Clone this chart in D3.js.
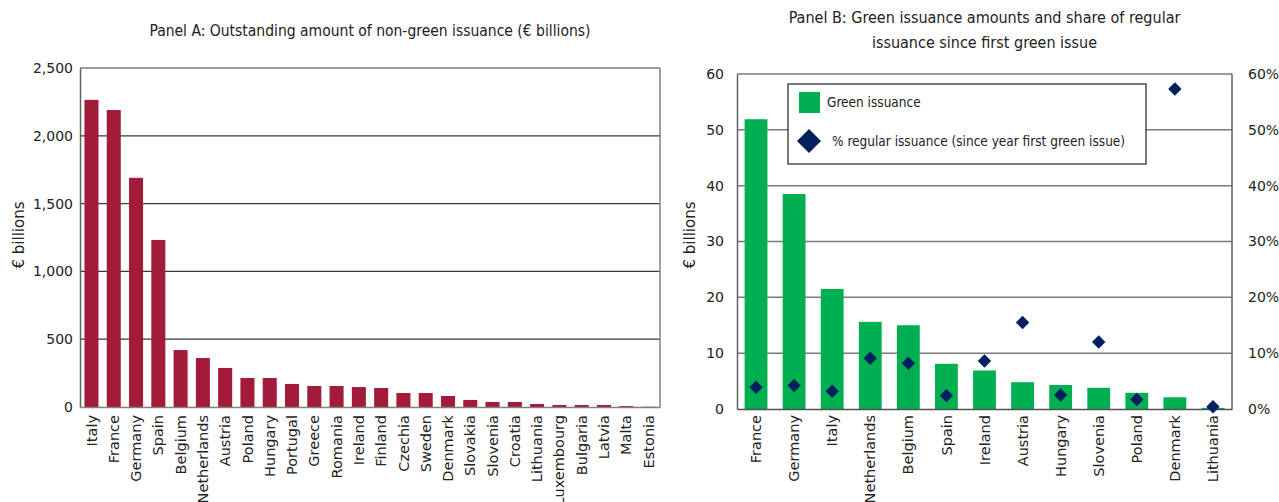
<!DOCTYPE html>
<html>
<head>
<meta charset="utf-8">
<script src="https://cdn.jsdelivr.net/npm/d3@7"></script>
<style>
  body { margin: 0; background: #fff; }
  .tick text { font-family: "DejaVu Sans", sans-serif; fill: #222; }
  .title, .legend text { font-family: "Liberation Sans Narrow", "DejaVu Sans Condensed", sans-serif; fill: #222; }
</style>
</head>
<body>
<div id="vis"></div>
<script>
// Panel A data
var countriesA = ["Italy", "France", "Germany", "Spain", "Belgium", "Netherlands", "Austria", "Poland",
  "Hungary", "Portugal", "Greece", "Romania", "Ireland", "Finland", "Czechia", "Sweden", "Denmark",
  "Slovakia", "Slovenia", "Croatia", "Lithuania", "Luxembourg", "Bulgaria", "Latvia", "Malta", "Estonia"];
var outstandingA = [2265, 2190, 1690, 1232, 420, 361, 288, 214, 214, 170, 155, 155, 147, 140,
  103, 103, 81, 52, 37, 37, 22, 15, 15, 15, 7, 2];
var ticksA = [0, 500, 1000, 1500, 2000, 2500];

// Panel B data
var countriesB = ["France", "Germany", "Italy", "Netherlands", "Belgium", "Spain", "Ireland", "Austria",
  "Hungary", "Slovenia", "Poland", "Denmark", "Lithuania"];
var greenB = [51.9, 38.5, 21.5, 15.6, 15.0, 8.1, 6.9, 4.8, 4.3, 3.8, 2.9, 2.1, 0.2];
var shareB = [3.9, 4.2, 3.2, 9.1, 8.2, 2.4, 8.6, 15.5, 2.5, 12.0, 1.7, 57.3, 0.4];
var ticksB = [0, 10, 20, 30, 40, 50, 60];

var width = 1279, height = 502;

var svg = d3.select("#vis").append("svg")
  .attr("width", width)
  .attr("height", height);

// ---------- Panel A ----------
var pA = { left: 80, right: 660, top: 68, bottom: 407 };

var xA = d3.scaleBand()
  .domain(countriesA)
  .range([pA.left, pA.right])
  .paddingInner(0.37)
  .paddingOuter(0.2);
var yA = d3.scaleLinear()
  .domain([0, 2500])
  .range([pA.bottom, pA.top]);

var gA = svg.append("g");

gA.append("text")
  .attr("class", "title")
  .attr("x", (pA.left + pA.right) / 2)
  .attr("y", 36)
  .attr("text-anchor", "middle")
  .style("font-size", "15.5px")
  .text("Panel A: Outstanding amount of non-green issuance (€ billions)");

// gridlines
gA.append("g")
  .selectAll("line")
  .data(ticksA.slice(1))
  .enter().append("line")
  .attr("x1", pA.left).attr("x2", pA.right)
  .attr("y1", function(d) { return yA(d); })
  .attr("y2", function(d) { return yA(d); })
  .attr("stroke", "#3a3a3a")
  .attr("stroke-width", 1.2);

// frame right side
gA.append("line")
  .attr("x1", pA.right).attr("x2", pA.right)
  .attr("y1", pA.top).attr("y2", pA.bottom)
  .attr("stroke", "#808080").attr("stroke-width", 1.5);

gA.append("g")
  .selectAll("rect")
  .data(outstandingA)
  .enter().append("rect")
  .attr("x", function(d, i) { return xA(countriesA[i]); })
  .attr("width", xA.bandwidth())
  .attr("y", function(d) { return yA(d); })
  .attr("height", function(d) { return yA(0) - yA(d); })
  .attr("fill", "#a21c39");

var axA = gA.append("g")
  .attr("transform", "translate(" + pA.left + ",0)")
  .call(d3.axisLeft(yA).tickValues(ticksA).tickSize(0).tickPadding(7).tickFormat(d3.format(",")));
axA.select(".domain").attr("stroke", "#606060").attr("stroke-width", 1.5);
axA.selectAll("text").style("font-size", "14px");

var bxA = gA.append("g")
  .attr("transform", "translate(0," + pA.bottom + ")")
  .call(d3.axisBottom(xA).tickSize(0));
bxA.select(".domain").attr("stroke", "#808080").attr("stroke-width", 1.5);
bxA.selectAll("text")
  .attr("transform", "rotate(-90)")
  .attr("text-anchor", "end")
  .attr("x", -8).attr("y", 0).attr("dy", "0.35em")
  .style("font-size", "14.5px");

gA.append("text")
  .attr("transform", "translate(24,235) rotate(-90)")
  .attr("text-anchor", "middle")
  .style("font-family", "DejaVu Sans, sans-serif")
  .style("font-size", "15px")
  .attr("fill", "#222")
  .text("€ billions");

// ---------- Panel B ----------
var pB = { left: 737, right: 1232, top: 74, bottom: 409 };

var xB = d3.scaleBand()
  .domain(countriesB)
  .range([pB.left, pB.right])
  .paddingInner(0.4)
  .paddingOuter(0.2);
var yB = d3.scaleLinear()
  .domain([0, 60])
  .range([pB.bottom, pB.top]);
var yB2 = d3.scaleLinear()
  .domain([0, 60])
  .range([pB.bottom, pB.top]);

var gB = svg.append("g");

gB.append("text")
  .attr("class", "title")
  .attr("text-anchor", "middle")
  .style("font-size", "16px")
  .selectAll("tspan")
  .data(["Panel B: Green issuance amounts and share of regular", "issuance since first green issue"])
  .enter().append("tspan")
  .attr("x", (pB.left + pB.right) / 2)
  .attr("y", function(d, i) { return 23 + i * 25; })
  .text(function(d) { return d; });

gB.append("g")
  .selectAll("line")
  .data(ticksB.slice(1))
  .enter().append("line")
  .attr("x1", pB.left).attr("x2", pB.right)
  .attr("y1", function(d) { return yB(d); })
  .attr("y2", function(d) { return yB(d); })
  .attr("stroke", "#7a7a7a")
  .attr("stroke-width", 1.5);

gB.append("line")
  .attr("x1", pB.right).attr("x2", pB.right)
  .attr("y1", pB.top).attr("y2", pB.bottom)
  .attr("stroke", "#606060").attr("stroke-width", 1.5);

gB.append("g")
  .selectAll("rect")
  .data(greenB)
  .enter().append("rect")
  .attr("x", function(d, i) { return xB(countriesB[i]); })
  .attr("width", xB.bandwidth())
  .attr("y", function(d) { return yB(d); })
  .attr("height", function(d) { return yB(0) - yB(d); })
  .attr("fill", "#00b050");

var axB = gB.append("g")
  .attr("transform", "translate(" + pB.left + ",0)")
  .call(d3.axisLeft(yB).tickValues(ticksB).tickSize(0).tickPadding(13));
axB.select(".domain").attr("stroke", "#606060").attr("stroke-width", 1.5);
axB.selectAll("text").style("font-size", "14px");

var axB2 = gB.append("g")
  .attr("transform", "translate(" + pB.right + ",0)")
  .call(d3.axisRight(yB2).tickValues(ticksB).tickSize(0).tickPadding(16)
    .tickFormat(function(d) { return d + "%"; }));
axB2.select(".domain").remove();
axB2.selectAll("text").style("font-size", "14px");

var bxB = gB.append("g")
  .attr("transform", "translate(0," + pB.bottom + ")")
  .call(d3.axisBottom(xB).tickSize(0));
bxB.select(".domain").attr("stroke", "#505050").attr("stroke-width", 1.5);
bxB.selectAll("text")
  .attr("transform", "rotate(-90)")
  .attr("text-anchor", "end")
  .attr("x", -6).attr("y", 0).attr("dy", "0.35em")
  .style("font-size", "14.5px");

var diamond = d3.symbol().type(d3.symbolSquare);

gB.append("g")
  .selectAll("path")
  .data(shareB)
  .enter().append("path")
  .attr("d", diamond.size(90)())
  .attr("transform", function(d, i) {
    return "translate(" + (xB(countriesB[i]) + xB.bandwidth() / 2) + "," + yB2(d) + ") rotate(45)";
  })
  .attr("fill", "#002060");

gB.append("text")
  .attr("transform", "translate(695,235) rotate(-90)")
  .attr("text-anchor", "middle")
  .style("font-family", "DejaVu Sans, sans-serif")
  .style("font-size", "15px")
  .attr("fill", "#222")
  .text("€ billions");

// legend
var lg = gB.append("g").attr("class", "legend");
lg.append("rect")
  .attr("x", 788).attr("y", 84).attr("width", 358).attr("height", 80)
  .attr("fill", "#fff").attr("stroke", "#222").attr("stroke-width", 1.2);
lg.append("rect")
  .attr("x", 799).attr("y", 92).attr("width", 21).attr("height", 21)
  .attr("fill", "#00b050");
lg.append("text")
  .attr("x", 827).attr("y", 107)
  .style("font-size", "13.5px")
  .text("Green issuance");
lg.append("path")
  .attr("d", diamond.size(290)())
  .attr("transform", "translate(809,141) rotate(45)")
  .attr("fill", "#002060");
lg.append("text")
  .attr("x", 832).attr("y", 146)
  .style("font-size", "13.5px")
  .text("% regular issuance (since year first green issue)");
</script>
</body>
</html>
